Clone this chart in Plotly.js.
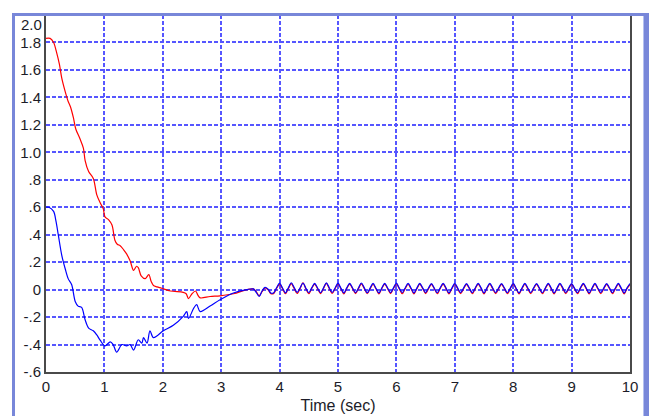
<!DOCTYPE html>
<html>
<head>
<meta charset="utf-8">
<script src="https://cdn.plot.ly/plotly-3.0.1.min.js"></script>
<style>
  html, body { margin: 0; padding: 0; background: #ffffff; }
  #wrap { position: relative; width: 649px; height: 416px; overflow: hidden; }
  #chart { position: absolute; left: 0; top: 0; width: 649px; height: 416px; }
  .band { position: absolute; background: #7887d9; pointer-events: none; }
</style>
</head>
<body>
<div id="wrap">
  <div id="chart"></div>
  <div class="band" style="left:12px; top:13px; width:637px; height:3px;"></div>
  <div class="band" style="left:12px; top:13px; width:3px; height:403px;"></div>
  <div class="band" style="left:644px; top:13px; width:5px; height:403px;"></div>
  <div class="band" style="left:643px; top:16px; width:1px; height:400px; background:#b4c0f0;"></div>
</div>
<script>
// Transient part of the red response
const tRed = [0.00,0.07,0.13,0.18,0.23,0.27,0.33,0.38,0.42,0.47,0.51,0.58,0.64,0.67,0.73,0.81,0.87,0.93,0.98,1.01,
  1.07,1.13,1.18,1.22,1.27,1.33,1.38,1.44,1.50,1.55,1.58,1.63,1.70,1.76,1.80,1.84,1.90,1.98,2.13,2.35,
  2.40,2.44,2.50,2.56,2.60,2.64,2.81,2.98,3.21,3.44,3.55];
const yRed = [1.83,1.83,1.80,1.73,1.64,1.54,1.44,1.37,1.33,1.25,1.17,1.10,1.03,0.94,0.86,0.81,0.69,0.63,0.59,0.53,
  0.51,0.47,0.36,0.33,0.32,0.29,0.26,0.21,0.14,0.17,0.16,0.10,0.08,0.11,0.06,0.03,0.02,0.01,-0.01,-0.02,
  -0.03,-0.065,-0.03,-0.01,-0.04,-0.06,-0.05,-0.045,-0.03,0.0,0.005];

// Transient part of the blue response
const tBlue = [0.00,0.05,0.13,0.17,0.21,0.27,0.33,0.38,0.44,0.50,0.55,0.61,0.67,0.73,0.81,0.87,0.93,1.01,1.10,1.15,
  1.21,1.30,1.38,1.44,1.50,1.58,1.64,1.67,1.73,1.78,1.84,2.01,2.18,2.35,2.41,2.44,2.53,2.58,2.64,2.81,
  2.98,3.21,3.44,3.55];
const yBlue = [0.60,0.60,0.57,0.50,0.40,0.25,0.15,0.08,0.035,-0.086,-0.12,-0.13,-0.22,-0.28,-0.30,-0.33,-0.37,-0.41,-0.38,-0.40,
  -0.455,-0.40,-0.41,-0.40,-0.44,-0.365,-0.39,-0.35,-0.39,-0.30,-0.35,-0.30,-0.26,-0.195,-0.16,-0.21,-0.135,-0.11,-0.16,-0.12,
  -0.074,-0.025,0.0,0.005];

// Steady-state ripple (shared time base)
const tOsc = [3.60,3.65,3.70,3.75,3.80,3.85,3.90,3.95,
  4.00,4.05,4.10,4.15,4.20,4.25,4.30,4.35,4.40,4.45,4.50,4.55,4.60,4.65,4.70,4.75,4.80,4.85,4.90,4.95,
  5.00,5.05,5.10,5.15,5.20,5.25,5.30,5.35,5.40,5.45,5.50,5.55,5.60,5.65,5.70,5.75,5.80,5.85,5.90,5.95,
  6.00,6.05,6.10,6.15,6.20,6.25,6.30,6.35,6.40,6.45,6.50,6.55,6.60,6.65,6.70,6.75,6.80,6.85,6.90,6.95,
  7.00,7.05,7.10,7.15,7.20,7.25,7.30,7.35,7.40,7.45,7.50,7.55,7.60,7.65,7.70,7.75,7.80,7.85,7.90,7.95,
  8.00,8.05,8.10,8.15,8.20,8.25,8.30,8.35,8.40,8.45,8.50,8.55,8.60,8.65,8.70,8.75,8.80,8.85,8.90,8.95,
  9.00,9.05,9.10,9.15,9.20,9.25,9.30,9.35,9.40,9.45,9.50,9.55,9.60,9.65,9.70,9.75,9.80,9.85,9.90,9.95,
  10.00];
const oscBlue = [-0.02,-0.05,-0.01,0.016,0.005,-0.025,-0.022,0.015,
  0.047,0.012,-0.024,0.014, 0.050,0.015,-0.020,0.012, 0.048,0.010,-0.022,0.013, 0.046,0.012,-0.023,0.011, 0.049,0.014,-0.021,0.012,
  0.047,0.011,-0.024,0.013, 0.046,0.012,-0.022,0.012, 0.048,0.013,-0.023,0.011, 0.045,0.010,-0.024,0.012, 0.046,0.012,-0.022,0.013,
  0.047,0.011,-0.023,0.012, 0.045,0.012,-0.024,0.011, 0.046,0.013,-0.022,0.012, 0.044,0.010,-0.023,0.013, 0.046,0.012,-0.024,0.012,
  0.045,0.011,-0.022,0.011, 0.044,0.012,-0.023,0.012, 0.046,0.013,-0.024,0.013, 0.045,0.011,-0.022,0.012, 0.044,0.012,-0.023,0.011,
  0.046,0.010,-0.024,0.012, 0.045,0.012,-0.022,0.013, 0.044,0.011,-0.023,0.012, 0.046,0.012,-0.024,0.011, 0.045,0.013,-0.022,0.012,
  0.044,0.011,-0.023,0.013, 0.046,0.012,-0.024,0.012, 0.045,0.010,-0.022,0.011, 0.044,0.012,-0.023,0.012, 0.045,0.011,-0.024,0.013,
  0.044];
const oscRed = [-0.015,-0.045,-0.015,0.012,0.0,-0.03,-0.028,0.01,
  0.040,0.006,-0.030,0.008, 0.044,0.008,-0.028,0.007, 0.050,0.006,-0.030,0.009, 0.040,0.007,-0.029,0.006, 0.046,0.008,-0.028,0.008,
  0.041,0.006,-0.031,0.008, 0.040,0.007,-0.029,0.007, 0.042,0.008,-0.030,0.006, 0.039,0.006,-0.031,0.008, 0.040,0.007,-0.029,0.008,
  0.041,0.006,-0.030,0.007, 0.039,0.007,-0.031,0.006, 0.040,0.008,-0.029,0.007, 0.038,0.006,-0.030,0.008, 0.040,0.007,-0.031,0.007,
  0.039,0.006,-0.029,0.006, 0.038,0.007,-0.030,0.007, 0.040,0.008,-0.031,0.008, 0.039,0.006,-0.029,0.007, 0.038,0.007,-0.030,0.006,
  0.040,0.006,-0.031,0.007, 0.039,0.007,-0.029,0.008, 0.038,0.006,-0.030,0.007, 0.040,0.007,-0.031,0.006, 0.039,0.008,-0.029,0.007,
  0.038,0.006,-0.030,0.008, 0.040,0.007,-0.031,0.007, 0.039,0.006,-0.029,0.006, 0.038,0.007,-0.030,0.007, 0.039,0.006,-0.031,0.008,
  0.038];

// Axis ticks (the top label is drawn a little lower, as in the reference)
const xTickVals = [0,1,2,3,4,5,6,7,8,9,10];
const xTickText = ['0','1','2','3','4','5','6','7','8','9','10'];
const yTickVals = [-0.6,-0.4,-0.2,0,0.2,0.4,0.6,0.8,1.0,1.2,1.4,1.6,1.8];
const yTickText = ['-.6','-.4','-.2','0','.2','.4','.6','.8','1.0','1.2','1.4','1.6','1.8'];
const yTopVal = 2.0;
const yTopText = '2.0';

const traces = [
  { x: tRed.concat(tOsc), y: yRed.concat(oscRed), type: 'scatter', mode: 'lines',
    line: { color: '#ff0000', width: 1.2, shape: 'spline', smoothing: 0.9 }, hoverinfo: 'skip' },
  { x: tBlue.concat(tOsc), y: yBlue.concat(oscBlue), type: 'scatter', mode: 'lines',
    line: { color: '#0000ff', width: 1.2, shape: 'spline', smoothing: 0.9 }, hoverinfo: 'skip' }
];

const fontFam = 'Liberation Sans, Arial, sans-serif';
const tickFont = { family: fontFam, size: 15, color: '#1c1c28' };
const gridCommon = { showgrid: true, gridcolor: '#5656ff', gridwidth: 2, griddash: '4px,2px',
  zeroline: false, showline: true, mirror: true, linecolor: '#4a4a4a', linewidth: 2, ticks: '', tickfont: tickFont };

const layout = {
  width: 649, height: 416,
  margin: { l: 46, r: 19, t: 15, b: 44 },
  paper_bgcolor: '#ffffff', plot_bgcolor: '#ffffff',
  showlegend: false,
  xaxis: Object.assign({}, gridCommon, {
    range: [0, 10], tickmode: 'array', tickvals: xTickVals, ticktext: xTickText,
    title: { text: 'Time (sec)', font: { family: fontFam, size: 16, color: '#1c1c28' }, standoff: 6 }
  }),
  yaxis: Object.assign({}, gridCommon, {
    range: [-0.6, 2.0], tickmode: 'array', tickvals: yTickVals, ticktext: yTickText
  }),
  annotations: [{
    text: yTopText, x: 0, xref: 'paper', xanchor: 'right', xshift: -2,
    y: yTopVal, yref: 'y', yanchor: 'middle', yshift: -9,
    showarrow: false, font: tickFont
  }]
};

Plotly.newPlot('chart', traces, layout, { staticPlot: true, displayModeBar: false });
</script>
</body>
</html>
